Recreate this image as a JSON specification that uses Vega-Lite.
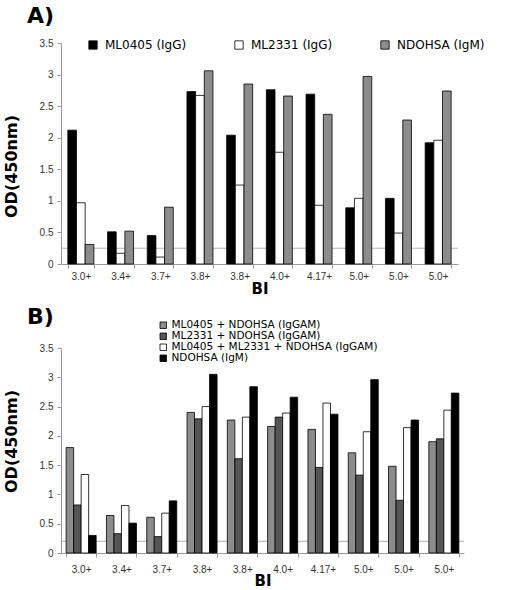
{
  "$schema": "https://vega.github.io/schema/vega-lite/v6.json",
  "background": "white",
  "padding": {"left": 3, "top": 5, "right": 5, "bottom": 0},
  "spacing": 10,
  "config": {
    "font": "Liberation Sans",
    "view": {"stroke": null},
    "axis": {
      "grid": false,
      "labelFont": "Liberation Sans",
      "labelFontSize": 10,
      "labelColor": "#333",
      "domainColor": "#999",
      "tickColor": "#999",
      "tickSize": 4,
      "titleFont": "DejaVu Sans",
      "titleFontWeight": "bold",
      "titleColor": "black"
    },
    "legend": {
      "title": null,
      "labelFont": "DejaVu Sans",
      "labelColor": "black",
      "labelLimit": 400,
      "symbolType": "square",
      "symbolStrokeColor": "black",
      "symbolStrokeWidth": 0.8,
      "padding": 0
    }
  },
  "datasets": {
    "a": [
      {"s": 1, "series": "ML0405 (IgG)", "od": 2.12},
      {"s": 1, "series": "ML2331 (IgG)", "od": 0.97},
      {"s": 1, "series": "NDOHSA (IgM)", "od": 0.31},
      {"s": 2, "series": "ML0405 (IgG)", "od": 0.51},
      {"s": 2, "series": "ML2331 (IgG)", "od": 0.17},
      {"s": 2, "series": "NDOHSA (IgM)", "od": 0.52},
      {"s": 3, "series": "ML0405 (IgG)", "od": 0.45},
      {"s": 3, "series": "ML2331 (IgG)", "od": 0.11},
      {"s": 3, "series": "NDOHSA (IgM)", "od": 0.90},
      {"s": 4, "series": "ML0405 (IgG)", "od": 2.73},
      {"s": 4, "series": "ML2331 (IgG)", "od": 2.67},
      {"s": 4, "series": "NDOHSA (IgM)", "od": 3.06},
      {"s": 5, "series": "ML0405 (IgG)", "od": 2.04},
      {"s": 5, "series": "ML2331 (IgG)", "od": 1.25},
      {"s": 5, "series": "NDOHSA (IgM)", "od": 2.85},
      {"s": 6, "series": "ML0405 (IgG)", "od": 2.76},
      {"s": 6, "series": "ML2331 (IgG)", "od": 1.77},
      {"s": 6, "series": "NDOHSA (IgM)", "od": 2.66},
      {"s": 7, "series": "ML0405 (IgG)", "od": 2.69},
      {"s": 7, "series": "ML2331 (IgG)", "od": 0.93},
      {"s": 7, "series": "NDOHSA (IgM)", "od": 2.37},
      {"s": 8, "series": "ML0405 (IgG)", "od": 0.89},
      {"s": 8, "series": "ML2331 (IgG)", "od": 1.04},
      {"s": 8, "series": "NDOHSA (IgM)", "od": 2.97},
      {"s": 9, "series": "ML0405 (IgG)", "od": 1.04},
      {"s": 9, "series": "ML2331 (IgG)", "od": 0.49},
      {"s": 9, "series": "NDOHSA (IgM)", "od": 2.28},
      {"s": 10, "series": "ML0405 (IgG)", "od": 1.92},
      {"s": 10, "series": "ML2331 (IgG)", "od": 1.96},
      {"s": 10, "series": "NDOHSA (IgM)", "od": 2.74}
    ],
    "b": [
      {"s": 1, "series": "ML0405 + NDOHSA (IgGAM)", "od": 1.80},
      {"s": 1, "series": "ML2331 + NDOHSA (IgGAM)", "od": 0.82},
      {"s": 1, "series": "ML0405 + ML2331 + NDOHSA (IgGAM)", "od": 1.34},
      {"s": 1, "series": "NDOHSA (IgM)", "od": 0.30},
      {"s": 2, "series": "ML0405 + NDOHSA (IgGAM)", "od": 0.64},
      {"s": 2, "series": "ML2331 + NDOHSA (IgGAM)", "od": 0.33},
      {"s": 2, "series": "ML0405 + ML2331 + NDOHSA (IgGAM)", "od": 0.81},
      {"s": 2, "series": "NDOHSA (IgM)", "od": 0.51},
      {"s": 3, "series": "ML0405 + NDOHSA (IgGAM)", "od": 0.61},
      {"s": 3, "series": "ML2331 + NDOHSA (IgGAM)", "od": 0.28},
      {"s": 3, "series": "ML0405 + ML2331 + NDOHSA (IgGAM)", "od": 0.68},
      {"s": 3, "series": "NDOHSA (IgM)", "od": 0.89},
      {"s": 4, "series": "ML0405 + NDOHSA (IgGAM)", "od": 2.40},
      {"s": 4, "series": "ML2331 + NDOHSA (IgGAM)", "od": 2.29},
      {"s": 4, "series": "ML0405 + ML2331 + NDOHSA (IgGAM)", "od": 2.50},
      {"s": 4, "series": "NDOHSA (IgM)", "od": 3.05},
      {"s": 5, "series": "ML0405 + NDOHSA (IgGAM)", "od": 2.27},
      {"s": 5, "series": "ML2331 + NDOHSA (IgGAM)", "od": 1.61},
      {"s": 5, "series": "ML0405 + ML2331 + NDOHSA (IgGAM)", "od": 2.32},
      {"s": 5, "series": "NDOHSA (IgM)", "od": 2.84},
      {"s": 6, "series": "ML0405 + NDOHSA (IgGAM)", "od": 2.16},
      {"s": 6, "series": "ML2331 + NDOHSA (IgGAM)", "od": 2.32},
      {"s": 6, "series": "ML0405 + ML2331 + NDOHSA (IgGAM)", "od": 2.39},
      {"s": 6, "series": "NDOHSA (IgM)", "od": 2.66},
      {"s": 7, "series": "ML0405 + NDOHSA (IgGAM)", "od": 2.11},
      {"s": 7, "series": "ML2331 + NDOHSA (IgGAM)", "od": 1.46},
      {"s": 7, "series": "ML0405 + ML2331 + NDOHSA (IgGAM)", "od": 2.56},
      {"s": 7, "series": "NDOHSA (IgM)", "od": 2.37},
      {"s": 8, "series": "ML0405 + NDOHSA (IgGAM)", "od": 1.71},
      {"s": 8, "series": "ML2331 + NDOHSA (IgGAM)", "od": 1.33},
      {"s": 8, "series": "ML0405 + ML2331 + NDOHSA (IgGAM)", "od": 2.07},
      {"s": 8, "series": "NDOHSA (IgM)", "od": 2.96},
      {"s": 9, "series": "ML0405 + NDOHSA (IgGAM)", "od": 1.48},
      {"s": 9, "series": "ML2331 + NDOHSA (IgGAM)", "od": 0.90},
      {"s": 9, "series": "ML0405 + ML2331 + NDOHSA (IgGAM)", "od": 2.14},
      {"s": 9, "series": "NDOHSA (IgM)", "od": 2.27},
      {"s": 10, "series": "ML0405 + NDOHSA (IgGAM)", "od": 1.90},
      {"s": 10, "series": "ML2331 + NDOHSA (IgGAM)", "od": 1.95},
      {"s": 10, "series": "ML0405 + ML2331 + NDOHSA (IgGAM)", "od": 2.44},
      {"s": 10, "series": "NDOHSA (IgM)", "od": 2.73}
    ]
  },
  "resolve": {
    "scale": {"x": "independent", "y": "independent", "xOffset": "independent", "fill": "independent"},
    "legend": {"fill": "independent"}
  },
  "vconcat": [
    {
      "title": {"text": "A)", "anchor": "start", "frame": "bounds", "font": "DejaVu Sans", "fontSize": 22, "fontWeight": "bold", "dx": 24, "offset": 10},
      "width": 397,
      "height": 221,
      "layer": [
        {
          "data": {"values": [{}]},
          "mark": {"type": "rule", "color": "#b0b0b0", "strokeWidth": 1},
          "encoding": {
            "y": {
              "datum": 0.25, "type": "quantitative",
              "scale": {"domain": [0, 3.5], "nice": false},
              "axis": {
                "title": "OD(450nm)", "titleFontSize": 16,
                "values": [0, 0.5, 1, 1.5, 2, 2.5, 3, 3.5], "format": "~g",
                "labelPadding": 4, "titleX": -42, "titleY": 123
              }
            }
          }
        },
        {
          "data": {"name": "a"},
          "mark": {"type": "bar", "stroke": "black", "strokeWidth": 0.8},
          "encoding": {
            "x": {
              "field": "s", "type": "ordinal",
              "scale": {"paddingInner": 0.345, "paddingOuter": 0.1725},
              "axis": {
                "title": "BI", "titleFontSize": 15, "titlePadding": 0,
                "labelAngle": 0, "labelPadding": 3, "tickBand": "extent",
                "labelExpr": "['3.0+','3.4+','3.7+','3.8+','3.8+','4.0+','4.17+','5.0+','5.0+','5.0+'][datum.value-1]"
              }
            },
            "xOffset": {
              "field": "series", "type": "nominal",
              "sort": ["ML0405 (IgG)", "ML2331 (IgG)", "NDOHSA (IgM)"],
              "scale": {"paddingInner": 0, "paddingOuter": 0}
            },
            "y": {
              "field": "od", "type": "quantitative",
              "scale": {"domain": [0, 3.5], "nice": false},
              "axis": {
                "title": "OD(450nm)", "titleFontSize": 16,
                "values": [0, 0.5, 1, 1.5, 2, 2.5, 3, 3.5], "format": "~g",
                "labelPadding": 4, "titleX": -42, "titleY": 123
              }
            },
            "fill": {
              "field": "series", "type": "nominal",
              "scale": {"domain": ["ML0405 (IgG)", "ML2331 (IgG)", "NDOHSA (IgM)"], "range": ["#000000", "#ffffff", "#8c8c8c"]},
              "legend": {
                "orient": "none", "direction": "horizontal", "legendX": 26, "legendY": -4,
                "labelFontSize": 12, "symbolSize": 70, "labelOffset": 6, "columnPadding": 46
              }
            }
          }
        }
      ]
    },
    {
      "title": {"text": "B)", "anchor": "start", "frame": "bounds", "font": "DejaVu Sans", "fontSize": 22, "fontWeight": "bold", "dx": 24, "offset": -9},
      "width": 403,
      "height": 205,
      "layer": [
        {
          "data": {"values": [{}]},
          "mark": {"type": "rule", "color": "#b0b0b0", "strokeWidth": 1},
          "encoding": {
            "y": {
              "datum": 0.2, "type": "quantitative",
              "scale": {"domain": [0, 3.5], "nice": false},
              "axis": {
                "title": "OD(450nm)", "titleFontSize": 16,
                "values": [0, 0.5, 1, 1.5, 2, 2.5, 3, 3.5], "format": "~g",
                "labelPadding": 4, "titleX": -42, "titleY": 93
              }
            }
          }
        },
        {
          "data": {"name": "b"},
          "mark": {"type": "bar", "stroke": "black", "strokeWidth": 0.8},
          "encoding": {
            "x": {
              "field": "s", "type": "ordinal",
              "scale": {"paddingInner": 0.255, "paddingOuter": 0.1275},
              "axis": {
                "title": "BI", "titleFontSize": 15, "titlePadding": -1,
                "labelAngle": 0, "labelPadding": 7, "tickBand": "extent",
                "labelExpr": "['3.0+','3.4+','3.7+','3.8+','3.8+','4.0+','4.17+','5.0+','5.0+','5.0+'][datum.value-1]"
              }
            },
            "xOffset": {
              "field": "series", "type": "nominal",
              "sort": ["ML0405 + NDOHSA (IgGAM)", "ML2331 + NDOHSA (IgGAM)", "ML0405 + ML2331 + NDOHSA (IgGAM)", "NDOHSA (IgM)"],
              "scale": {"paddingInner": 0, "paddingOuter": 0}
            },
            "y": {
              "field": "od", "type": "quantitative",
              "scale": {"domain": [0, 3.5], "nice": false},
              "axis": {
                "title": "OD(450nm)", "titleFontSize": 16,
                "values": [0, 0.5, 1, 1.5, 2, 2.5, 3, 3.5], "format": "~g",
                "labelPadding": 4, "titleX": -42, "titleY": 93
              }
            },
            "fill": {
              "field": "series", "type": "nominal",
              "scale": {"domain": ["ML0405 + NDOHSA (IgGAM)", "ML2331 + NDOHSA (IgGAM)", "ML0405 + ML2331 + NDOHSA (IgGAM)", "NDOHSA (IgM)"], "range": ["#8c8c8c", "#555555", "#ffffff", "#000000"]},
              "legend": {
                "orient": "none", "direction": "vertical", "legendX": 97, "legendY": -28,
                "labelFontSize": 10.5, "symbolSize": 42, "labelOffset": 3, "rowPadding": -2
              }
            }
          }
        }
      ]
    }
  ]
}
